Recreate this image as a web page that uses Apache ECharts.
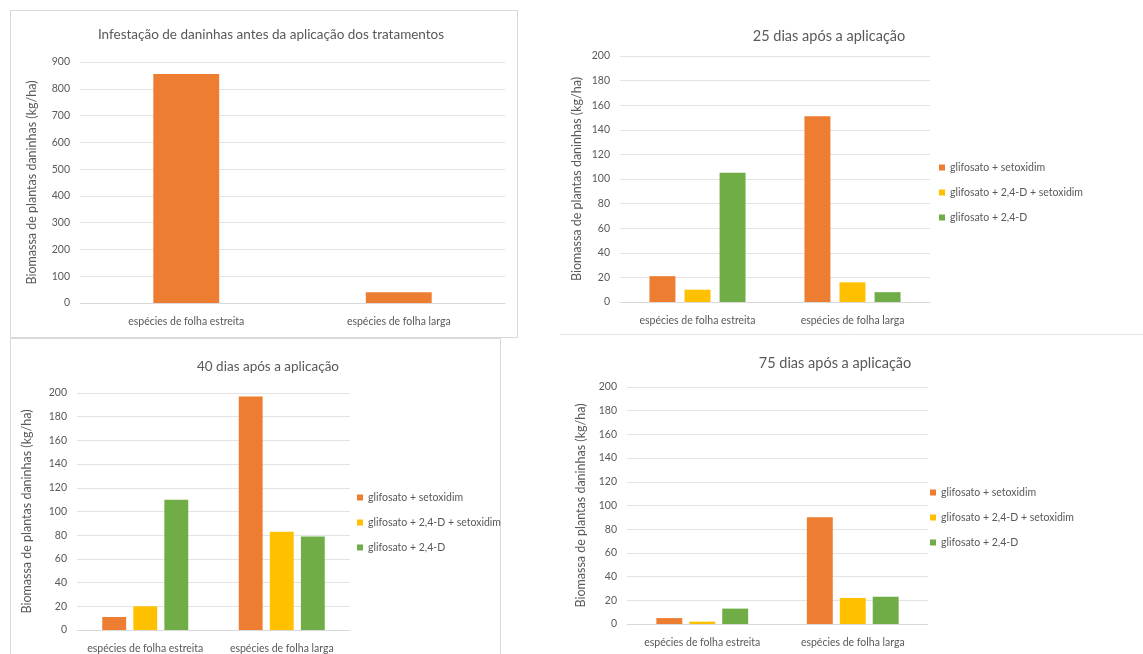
<!DOCTYPE html>
<html>
<head>
<meta charset="utf-8">
<script src="https://cdn.jsdelivr.net/npm/echarts@6/dist/echarts.min.js"></script>
<style>
html,body{margin:0;padding:0;background:#fff;}
#c{width:1143px;height:654px;}
</style>
</head>
<body>
<div id="c"></div>
<script>
// ---- data ----
const categories1 = ['espécies de folha estreita', 'espécies de folha larga'];
const categoriesT = ['espécies de folha estreita', 'espécies de folha larga'];
const seriesNames = ['glifosato + setoxidim', 'glifosato + 2,4-D + setoxidim', 'glifosato + 2,4-D'];
const antes = [855, 40];
const d25_setox = [21, 151];
const d25_24dSetox = [10, 16];
const d25_24d = [105, 8];
const d40_setox = [11, 197];
const d40_24dSetox = [20, 83];
const d40_24d = [110, 79];
const d75_setox = [5, 90];
const d75_24dSetox = [2, 22];
const d75_24d = [13, 23];
const yTicks1 = {min: 0, max: 900, interval: 100};
const yTicksT = {min: 0, max: 200, interval: 20};
const titles = ['Infestação de daninhas antes da aplicação dos tratamentos', '25 dias após a aplicação', '40 dias após a aplicação', '75 dias após a aplicação'];
const yName = 'Biomassa de plantas daninhas (kg/ha)';

const colors = ['#ED7D31', '#FFC000', '#70AD47'];
const FONT = 'Lato, "Open Sans", sans-serif';
const TXT = '#595959';

const grids = [
  {left: 80, top: 62, width: 425, height: 241},
  {left: 620, top: 56, width: 310, height: 246},
  {left: 77, top: 393, width: 273, height: 237},
  {left: 627, top: 387, width: 301, height: 237}
];
const nameGaps = [42, 37, 44, 40];

const xAxes = grids.map((g, i) => ({
  type: 'category', gridIndex: i, data: i === 0 ? categories1 : categoriesT,
  axisLine: {lineStyle: {color: '#D9D9D9'}}, axisTick: {show: false},
  axisLabel: {color: TXT, fontSize: 10.5, fontFamily: FONT, margin: 13, interval: 0, hideOverlap: false}
}));
const yAxes = grids.map((g, i) => {
  const t = i === 0 ? yTicks1 : yTicksT;
  return {
    type: 'value', gridIndex: i, min: t.min, max: t.max, interval: t.interval,
    name: yName, nameLocation: 'middle', nameGap: nameGaps[i], nameRotate: 90,
    nameTextStyle: {color: TXT, fontSize: 12.5, fontFamily: FONT},
    axisLine: {show: false}, axisTick: {show: false},
    axisLabel: {color: TXT, fontSize: 10.5, fontFamily: FONT, margin: 10},
    splitLine: {lineStyle: {color: '#E3E3E3'}}
  };
});

const series = [{
  type: 'bar', name: 'Infestação', xAxisIndex: 0, yAxisIndex: 0, data: antes,
  barWidth: '31%', itemStyle: {color: colors[0]}
}];
const panels = [
  [d25_setox, d25_24dSetox, d25_24d],
  [d40_setox, d40_24dSetox, d40_24d],
  [d75_setox, d75_24dSetox, d75_24d]
];
const catGaps = ['38%', '37%', '39%'];
const barGaps = ['35%', '30%', '27%'];
panels.forEach((p, k) => {
  p.forEach((vals, j) => {
    series.push({
      type: 'bar', name: seriesNames[j], xAxisIndex: k + 1, yAxisIndex: k + 1,
      data: vals, itemStyle: {color: colors[j]},
      barCategoryGap: catGaps[k], barGap: barGaps[k]
    });
  });
});

const titleDefs = [
  {x: 266, y: 23, size: 13.5},
  {x: 824, y: 24, size: 14.5},
  {x: 263, y: 355, size: 13.5},
  {x: 830, y: 351, size: 14.5}
];
const legendDefs = [
  {left: 934, top: 157},
  {left: 352, top: 487},
  {left: 925, top: 482}
];

const option = {
  animation: false,
  backgroundColor: '#fff',
  grid: grids.map(g => Object.assign({containLabel: false}, g)),
  xAxis: xAxes,
  yAxis: yAxes,
  title: titles.map((t, i) => ({
    text: t, left: titleDefs[i].x, top: titleDefs[i].y, textAlign: 'center',
    textStyle: {color: TXT, fontSize: titleDefs[i].size, fontWeight: 'normal', fontFamily: FONT}
  })),
  legend: legendDefs.map(l => ({
    data: seriesNames, orient: 'vertical', left: l.left, top: l.top,
    itemWidth: 6, itemHeight: 6, itemGap: 14, icon: 'rect',
    textStyle: {color: TXT, fontSize: 10.5, fontFamily: FONT}, selectedMode: false
  })),
  graphic: [
    {type: 'rect', shape: {x: 10.5, y: 10.5, width: 507, height: 327}, style: {fill: 'none', stroke: '#D9D9D9', lineWidth: 1}, silent: true},
    {type: 'rect', shape: {x: 10.5, y: 338.5, width: 490, height: 330}, style: {fill: 'none', stroke: '#D9D9D9', lineWidth: 1}, silent: true},
    {type: 'line', shape: {x1: 560, y1: 334.5, x2: 1143, y2: 334.5}, style: {stroke: '#E6E6E6', lineWidth: 1}, silent: true}
  ],
  series: series
};
const chart = echarts.init(document.getElementById('c'), null, {renderer: 'canvas'});
chart.setOption(option);
</script>
</body>
</html>
